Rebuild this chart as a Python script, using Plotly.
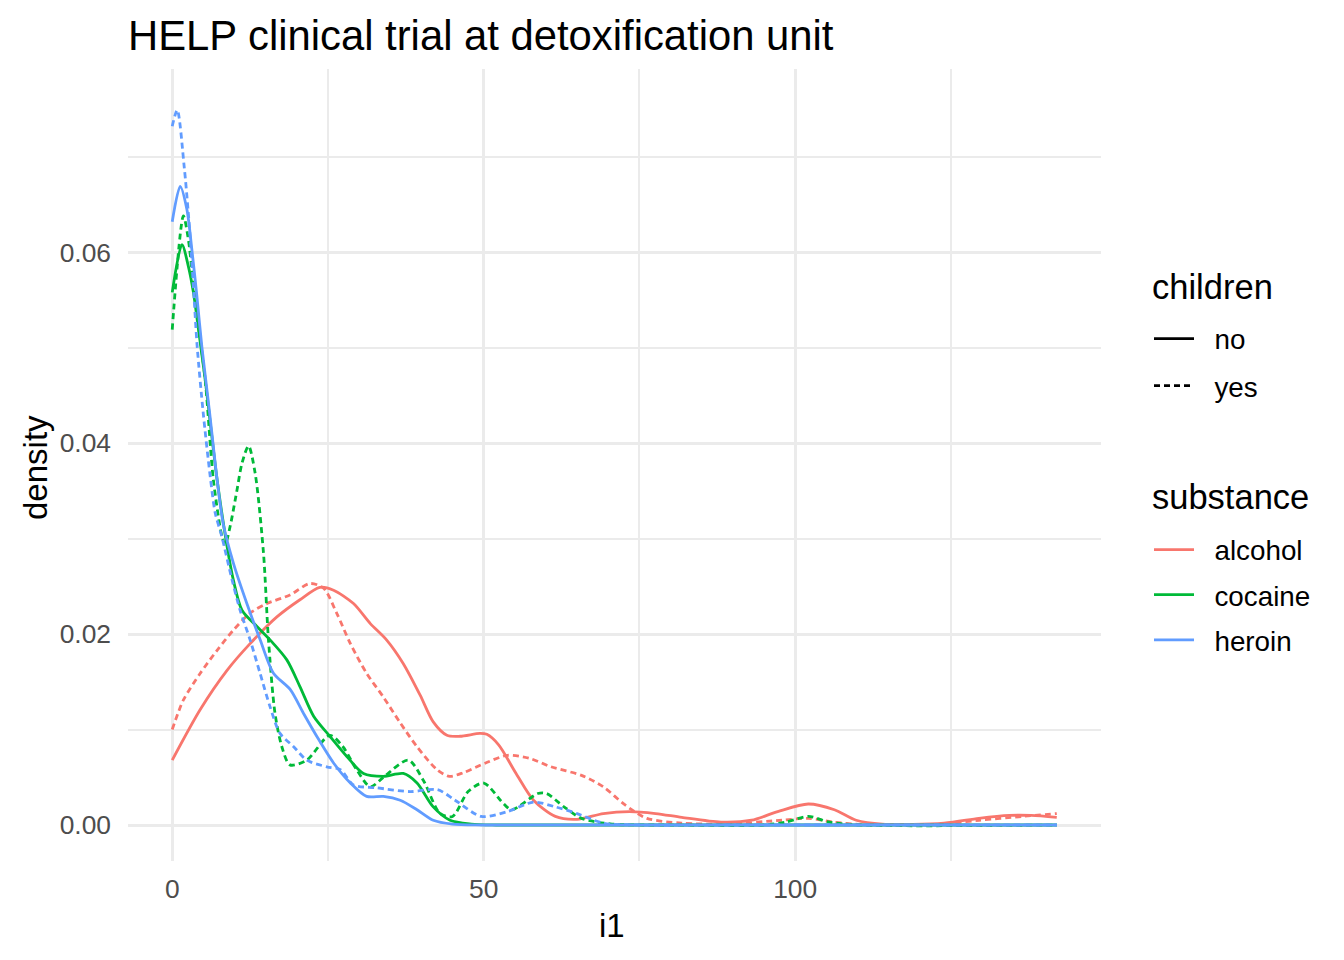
import plotly.graph_objects as go

# ---------------- data ----------------
substances = ["alcohol", "cocaine", "heroin"]
children_levels = ["no", "yes"]
colors = {"alcohol": "#F8766D", "cocaine": "#00BA38", "heroin": "#619CFF"}

x_ticks = [0, 50, 100]
y_ticks = [0.0, 0.02, 0.04, 0.06]
y_tick_labels = ["0.00", "0.02", "0.04", "0.06"]

alcohol_no_x = [0, 4.5, 8.8, 12.5, 16.8, 20.5, 23.7, 25.9, 29.1, 31.8, 34.4, 37.1, 39.8, 41.9, 44.1, 46.2, 49.4,
                50.5, 52.4, 55.2, 58.0, 61.5, 65.0, 69.2, 73.4, 77.6, 81.8, 88.1, 93.0, 97.2, 102.1, 106.3,
                109.8, 114.0, 123.9, 129.5, 134.4, 137.9, 142.0]
alcohol_no_y = [0.0068, 0.0121, 0.0162, 0.0190, 0.0218, 0.0236, 0.0249, 0.0246, 0.0232, 0.0211, 0.0194, 0.0169,
                0.0136, 0.0108, 0.0094, 0.0093, 0.0096, 0.0095, 0.0084, 0.0054, 0.0026, 0.0009, 0.0006, 0.0012,
                0.0014, 0.0012, 0.0008, 0.0003, 0.0005, 0.0014, 0.0022, 0.0016, 0.0005, 0.0001, 0.0002, 0.0007,
                0.0010, 0.0010, 0.0008]

alcohol_yes_x = [0, 1.8, 4.5, 7.2, 9.8, 12.5, 15.2, 18.9, 22.1, 24.3, 26.4, 28.6, 31.2, 33.9, 36.6, 39.3, 42.5,
                 44.5, 46.8, 50.3, 53.8, 57.3, 60.8, 65.7, 69.2, 72.7, 76.2, 81.8, 88.8, 97.9, 102.1, 106.3,
                 112.0, 122.0, 129.5, 136.5, 142.0]
alcohol_yes_y = [0.0100, 0.0131, 0.0159, 0.0183, 0.0204, 0.0222, 0.0232, 0.0241, 0.0253, 0.0248, 0.0222, 0.0190,
                 0.0159, 0.0134, 0.0107, 0.0082, 0.0058, 0.0051, 0.0055, 0.0065, 0.0073, 0.0070, 0.0061, 0.0052,
                 0.0040, 0.0021, 0.0007, 0.0002, 0.0001, 0.0005, 0.0007, 0.0003, 0.0000, 0.0000, 0.0005, 0.0009,
                 0.0012]

cocaine_no_x = [0, 1.56, 2.6, 3.4, 4.3, 5.3, 7.2, 8.8, 9.8, 11.2, 13.6, 15.7, 18.4, 20.5, 22.7, 25.3, 28.0, 30.7,
                33.9, 37.1, 39.3, 41.9, 44.6, 48.0, 52.0, 142.0]
cocaine_no_y = [0.0558, 0.0608, 0.0585, 0.0558, 0.0515, 0.0466, 0.0362, 0.0292, 0.0257, 0.0225, 0.0208, 0.0194,
                0.0173, 0.0145, 0.0114, 0.0093, 0.0072, 0.0054, 0.0051, 0.0054, 0.0044, 0.0019, 0.0005, 0.0001,
                0.0000, 0.0000]

cocaine_yes_x = [0, 1.8, 2.6, 3.15, 3.7, 5.3, 6.6, 8.0, 8.5, 9.3, 10.4, 11.2, 12.25, 13.3, 14.65, 15.45, 16.5,
                 17.6, 18.9, 21.6, 25.3, 27.4, 29.6, 31.8, 33.9, 37.9, 40.3, 43.0, 45.0, 47.5, 50.0, 53.1, 54.5,
                 58.7, 60.1, 62.9, 65.7, 70.6, 80.0, 95.0, 98.5, 102.1, 105.5, 110.0, 142.0]
cocaine_yes_y = [0.0519, 0.0638, 0.0613, 0.0582, 0.0550, 0.0466, 0.0362, 0.0302, 0.0294, 0.0313, 0.0351, 0.0379,
                 0.0397, 0.0369, 0.0285, 0.0194, 0.0117, 0.0082, 0.0063, 0.0068, 0.0094, 0.0082, 0.0058, 0.0040,
                 0.0050, 0.0068, 0.0047, 0.0012, 0.0009, 0.0035, 0.0044, 0.0023, 0.0016, 0.0033, 0.0033, 0.0019,
                 0.0007, 0.0001, 0.0000, 0.0000, 0.0003, 0.0009, 0.0003, 0.0000, 0.0000]

heroin_no_x = [0, 1.28, 2.35, 3.15, 3.96, 4.76, 6.0, 7.2, 8.2, 9.83, 11.98, 14.12, 16.25, 18.93, 21.07, 23.2, 25.9,
               28.6, 31.2, 33.9, 36.6, 39.3, 41.9, 45.0, 50.0, 142.0]
heroin_no_y = [0.0632, 0.0669, 0.0645, 0.0603, 0.0554, 0.0501, 0.0432, 0.0362, 0.0315, 0.0274, 0.0232, 0.0194,
               0.0159, 0.0142, 0.0117, 0.0093, 0.0065, 0.0044, 0.0030, 0.0030, 0.0026, 0.0016, 0.0005, 0.0001,
               0.0000, 0.0000]

heroin_yes_x = [0, 0.8, 1.93, 2.57, 3.13, 3.53, 4.01, 4.97, 6.10, 6.90, 7.97, 9.6, 10.9, 12.5, 14.1, 15.7, 17.3,
                19.5, 21.6, 24.8, 27.0, 29.1, 32.8, 38.2, 42.6, 45.4, 49.6, 53.8, 58.0, 61.5, 65.0, 69.2, 75.0,
                90.0, 110.0, 142.0]
heroin_yes_y = [0.0732, 0.0749, 0.0689, 0.0642, 0.0592, 0.0550, 0.0501, 0.0432, 0.0365, 0.0327, 0.0302, 0.0257,
                0.0225, 0.0194, 0.0159, 0.0124, 0.0096, 0.0082, 0.0068, 0.0061, 0.0058, 0.0042, 0.0039, 0.0035,
                0.0037, 0.0026, 0.0009, 0.0014, 0.0024, 0.0019, 0.0012, 0.0002, 0.0000, 0.0000, 0.0000, 0.0000]

curves = [
    ("alcohol", "no", alcohol_no_x, alcohol_no_y),
    ("alcohol", "yes", alcohol_yes_x, alcohol_yes_y),
    ("cocaine", "no", cocaine_no_x, cocaine_no_y),
    ("cocaine", "yes", cocaine_yes_x, cocaine_yes_y),
    ("heroin", "no", heroin_no_x, heroin_no_y),
    ("heroin", "yes", heroin_yes_x, heroin_yes_y),
]

# ---------------- styling ----------------
FONT = "Liberation Sans, Arial, Helvetica, sans-serif"
LW = 2.8
DASH = "6px,4px"
dash_of = {"no": "solid", "yes": DASH}
NBSP = "\u00a0\u00a0"

fig = go.Figure()
for sub, ch, xs, ys in curves:
    fig.add_trace(go.Scatter(
        x=xs, y=ys, mode="lines",
        line=dict(color=colors[sub], width=LW, dash=dash_of[ch], shape="spline", smoothing=0.8),
        showlegend=False, hoverinfo="skip",
    ))

# legend: children (linetype)
for ch in children_levels:
    fig.add_trace(go.Scatter(
        x=[None], y=[None], mode="lines", name=NBSP + ch,
        line=dict(color="black", width=LW, dash=dash_of[ch]),
        legend="legend", legendgroup="ch_" + ch,
    ))
# legend: substance (colour)
for sub in substances:
    fig.add_trace(go.Scatter(
        x=[None], y=[None], mode="lines", name=NBSP + sub,
        line=dict(color=colors[sub], width=LW),
        legend="legend2", legendgroup="sub_" + sub,
    ))

# The page body has an 8px margin, so the figure is 8px smaller and all
# page-pixel positions below are converted with that offset in mind.
OFF = 8
W, H = 1344 - OFF, 960 - OFF
L, R, T, B = 128 - OFF, 243, 69 - OFF, 99
pw, ph = W - L - R, H - T - B

def px_x(px):
    return (px - OFF - L) / pw

def px_y(py):
    return (H - B - (py - OFF)) / ph

grid = "#EBEBEB"
fig.update_layout(
    width=W, height=H,
    margin=dict(l=L, r=R, t=T, b=B),
    paper_bgcolor="white", plot_bgcolor="white",
    font=dict(family=FONT, color="black"),
    title=dict(text="HELP clinical trial at detoxification unit", x=0, xref="paper", xanchor="left",
               y=1 - (35 - OFF) / H, yref="container", yanchor="middle",
               font=dict(size=41.8, color="black", family=FONT)),
    xaxis=dict(range=[-7.1, 149.1], tickvals=x_ticks, ticktext=[str(v) for v in x_ticks],
               showgrid=True, gridcolor=grid, gridwidth=3.2, zeroline=False, showline=False,
               ticks="", ticklabelstandoff=10,
               tickfont=dict(size=26.4, color="#4D4D4D", family=FONT),
               minor=dict(tickvals=[25, 75, 125], showgrid=True, gridcolor=grid, gridwidth=1.6)),
    yaxis=dict(range=[-0.00377, 0.0792], tickvals=y_ticks, ticktext=y_tick_labels,
               showgrid=True, gridcolor=grid, gridwidth=3.2, zeroline=False, showline=False,
               ticks="", ticklabelstandoff=16,
               tickfont=dict(size=26.4, color="#4D4D4D", family=FONT),
               minor=dict(tickvals=[0.01, 0.03, 0.05, 0.07], showgrid=True, gridcolor=grid, gridwidth=1.6)),
    legend=dict(x=px_x(1149), xanchor="left", y=px_y(314), yanchor="top",
                font=dict(size=27.8, color="black", family=FONT),
                bgcolor="rgba(0,0,0,0)", borderwidth=0, tracegroupgap=8, itemwidth=40),
    legend2=dict(x=px_x(1149), xanchor="left", y=px_y(525), yanchor="top",
                 font=dict(size=27.8, color="black", family=FONT),
                 bgcolor="rgba(0,0,0,0)", borderwidth=0, tracegroupgap=6, itemwidth=40),
    annotations=[
        dict(text="children", x=px_x(1150), y=px_y(287), xref="paper", yref="paper", showarrow=False,
             xanchor="left", yanchor="middle", font=dict(size=34.5, color="black", family=FONT)),
        dict(text="substance", x=px_x(1150), y=px_y(497), xref="paper", yref="paper", showarrow=False,
             xanchor="left", yanchor="middle", font=dict(size=34.5, color="black", family=FONT)),
        dict(text="i1", x=px_x(612), y=px_y(925), xref="paper", yref="paper", showarrow=False,
             xanchor="center", yanchor="middle", font=dict(size=33, color="black", family=FONT)),
        dict(text="density", x=px_x(35), y=px_y(468), xref="paper", yref="paper", showarrow=False,
             textangle=-90, xanchor="center", yanchor="middle", font=dict(size=33, color="black", family=FONT)),
    ],
)

fig.write_html("out.html")
